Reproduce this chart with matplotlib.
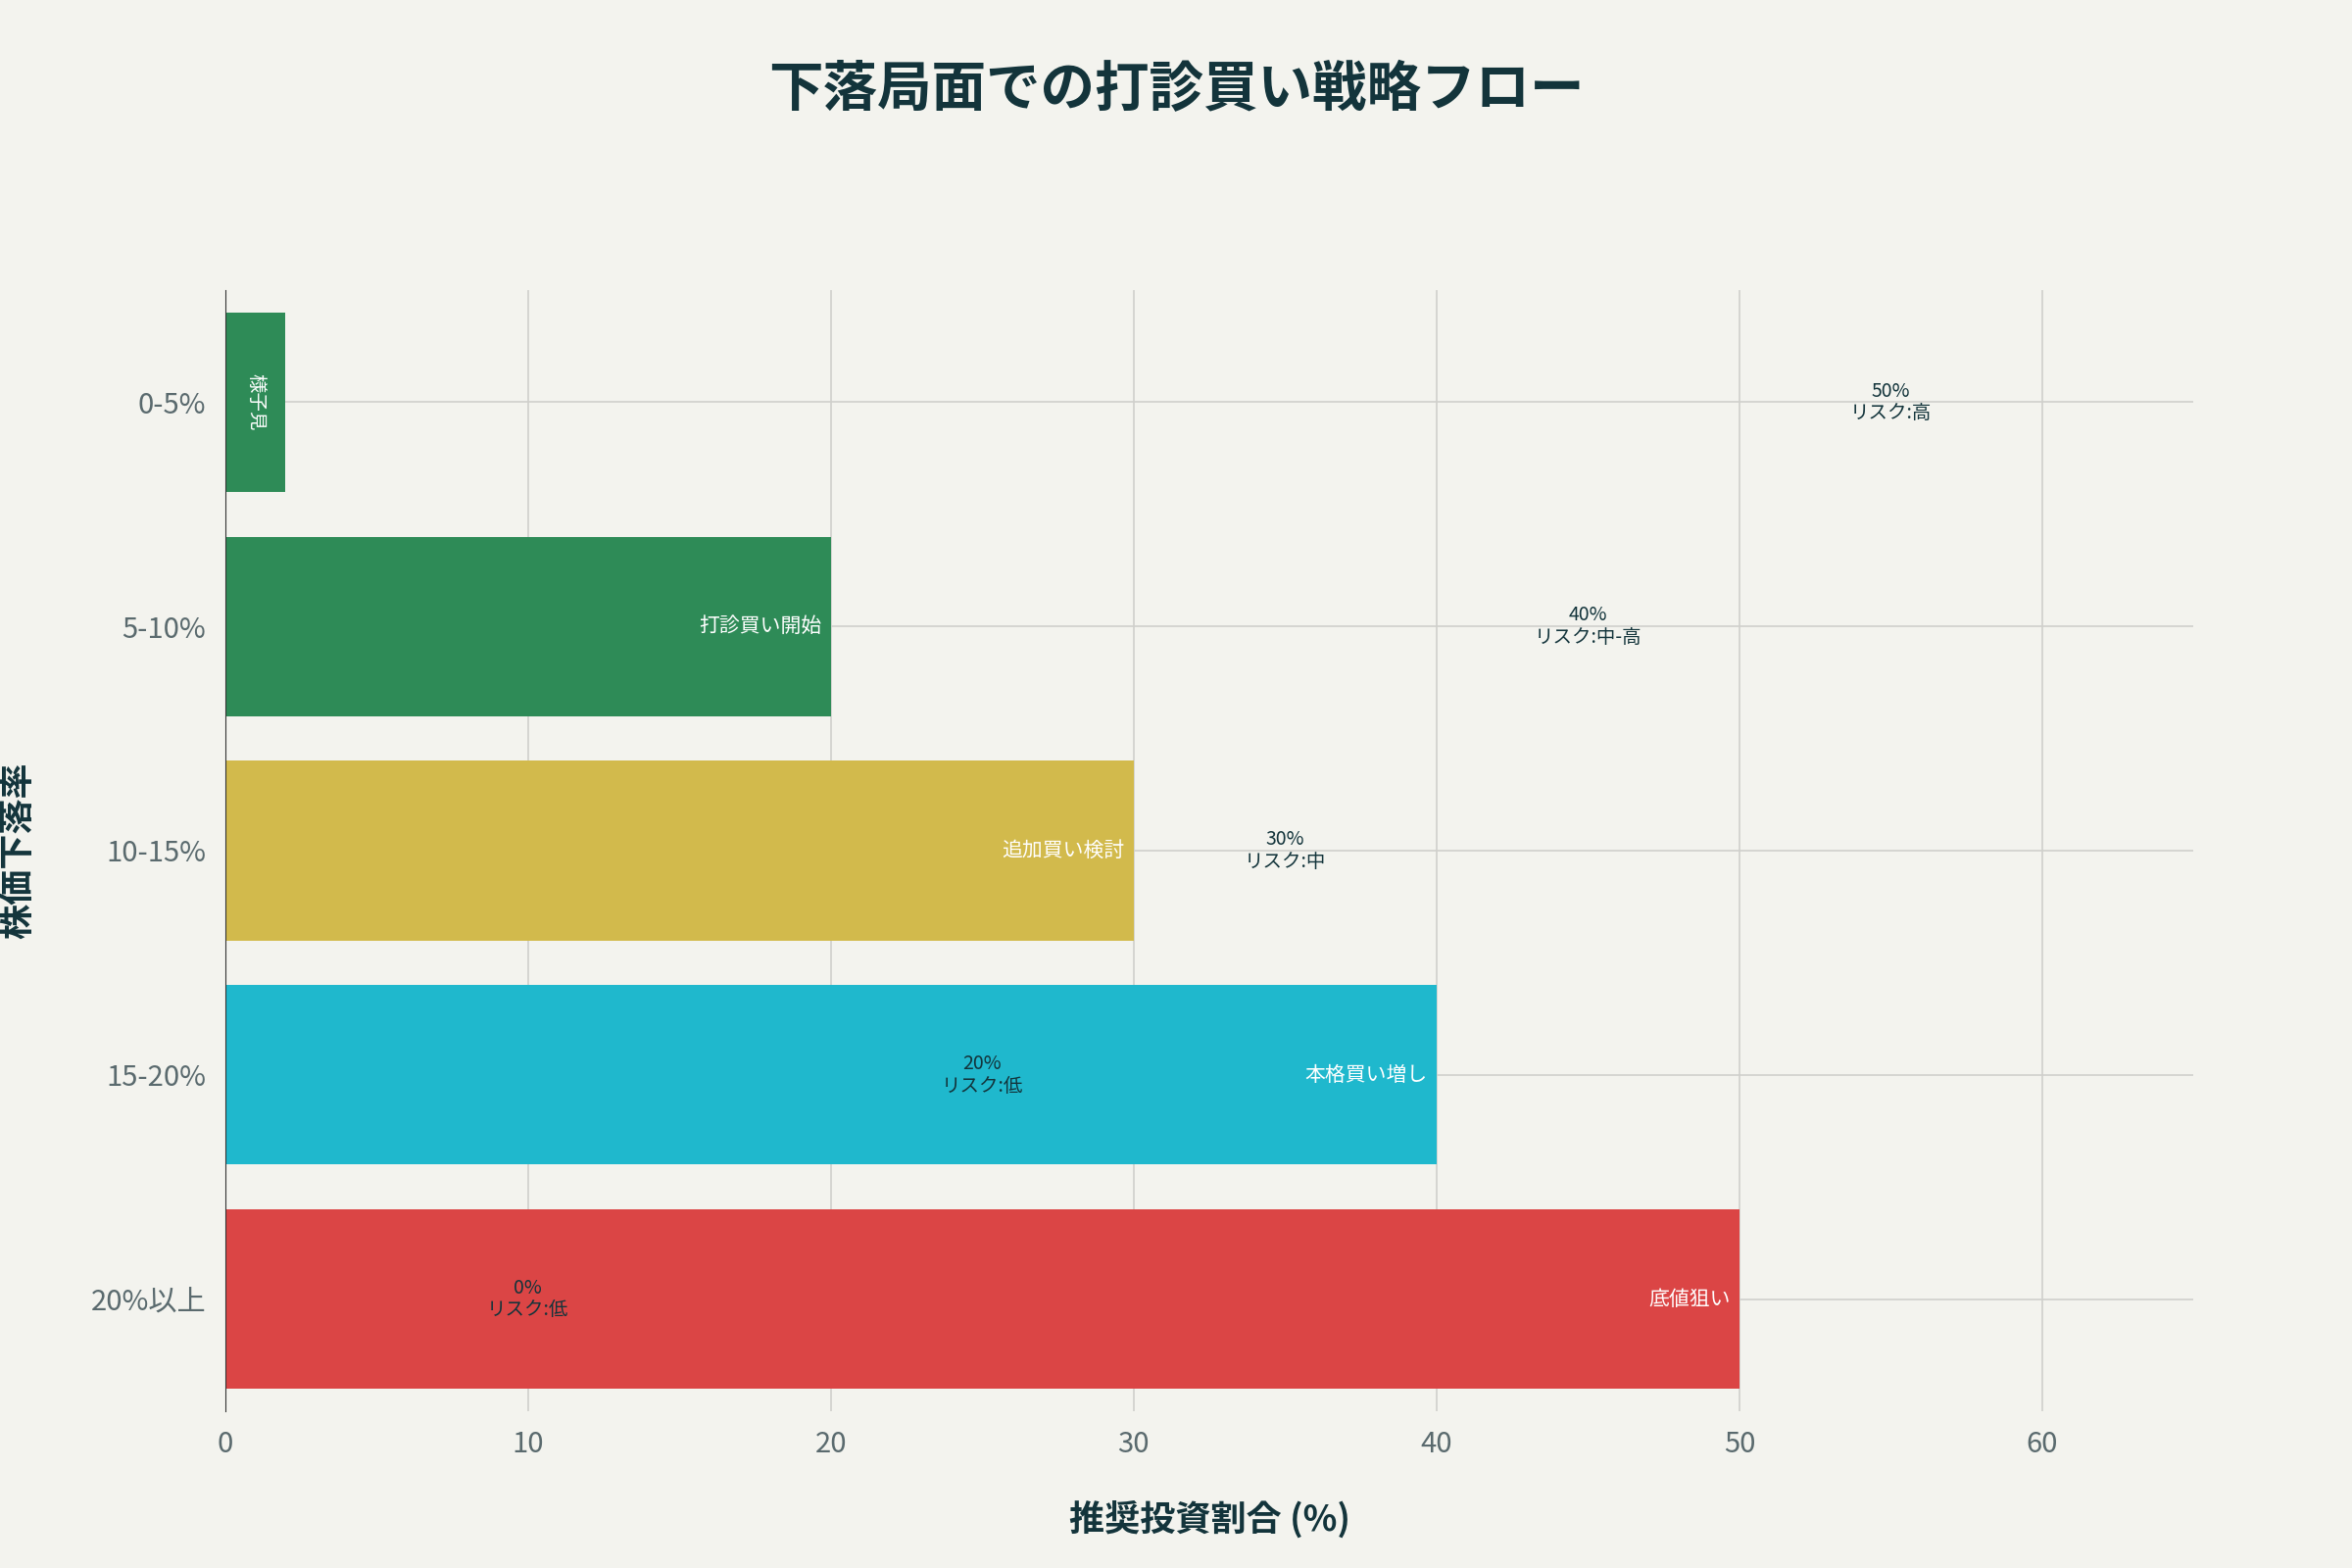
import matplotlib.pyplot as plt

plt.rcParams["font.family"] = ["Noto Sans CJK JP", "DejaVu Sans"]

categories = ["0-5%", "5-10%", "10-15%", "15-20%", "20%以上"]
values = [2, 20, 30, 40, 50]
bar_labels = ["様子見", "打診買い開始", "追加買い検討", "本格買い増し", "底値狙い"]
colors = ["#2E8B57", "#2E8B57", "#D2BA4C", "#1FB8CD", "#DB4545"]
note_x = [55, 45, 35, 25, 10]
note_text = ["50%\nリスク:高", "40%\nリスク:中-高", "30%\nリスク:中", "20%\nリスク:低", "0%\nリスク:低"]

bg = "#F3F3EE"
dark = "#13343B"

fig = plt.figure(figsize=(24, 16), dpi=100, facecolor=bg)
ax = fig.add_axes([0.0957, 0.100, 0.837, 0.715], facecolor=bg)

y = list(range(len(categories)))
ax.barh(y, values, height=0.8, color=colors, edgecolor="none", zorder=2)
ax.set_yticks(y, categories)
ax.invert_yaxis()
ax.set_xlim(0, 65)
ax.set_ylim(4.5, -0.5)
ax.set_xticks(range(0, 70, 10))
ax.grid(True, color="#D0D0CC", linewidth=1.2, zorder=0)
ax.set_axisbelow(True)
for s in ["top", "right", "bottom"]:
    ax.spines[s].set_visible(False)
ax.spines["left"].set_color("#333333")
ax.tick_params(length=0, labelsize=21, colors="#5A6A6E", pad=14)

for i, (v, lab) in enumerate(zip(values, bar_labels)):
    if i == 0:
        ax.text(v / 2, i, lab, rotation=-90, ha="center", va="center", color="white", fontsize=14)
    else:
        ax.text(v - 0.3, i, lab, ha="right", va="center", color="white", fontsize=15)

for i, (xv, t) in enumerate(zip(note_x, note_text)):
    ax.text(xv, i, t, ha="center", va="center", color=dark, fontsize=14, linespacing=1.1)

ax.set_xlabel("推奨投資割合 (%)", fontsize=26, fontweight="bold", color=dark, labelpad=30)
ax.set_ylabel("株価下落率", fontsize=26, fontweight="bold", color=dark, labelpad=40)
fig.suptitle("下落局面での打診買い戦略フロー", fontsize=40, fontweight="bold", color=dark, y=0.96)

fig.savefig("out.png", facecolor=bg)
